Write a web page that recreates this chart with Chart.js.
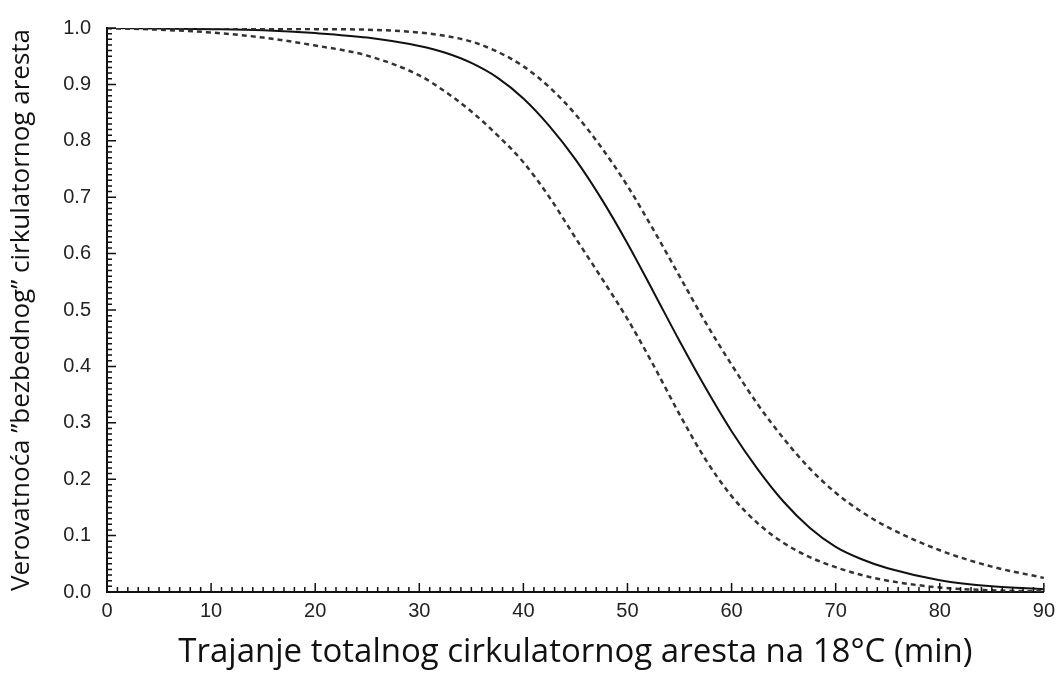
<!DOCTYPE html>
<html>
<head>
<meta charset="utf-8">
<script src="https://cdn.jsdelivr.net/npm/chart.js@4.4.0/dist/chart.umd.min.js"></script>
<style>
  html, body { margin: 0; padding: 0; background: #fff; }
  #wrap { width: 1062px; height: 675px; }
</style>
</head>
<body>
<div id="wrap"><canvas id="arrestCanvas"></canvas></div>
<script>
// minutes of total circulatory arrest at 18C
var minutes = [0, 5, 10, 15, 20, 25, 30, 32.5, 35, 37.5, 40, 42.5, 45, 47.5, 50, 52.5, 55, 57.5, 60, 62.5, 65, 67.5, 70, 72.5, 75, 80, 85, 90];
// probability of "safe" arrest: estimate and the two dashed bounds
var probMain  = [1.0, 0.999, 0.998, 0.996, 0.991, 0.983, 0.968, 0.956, 0.938, 0.912, 0.875, 0.826, 0.767, 0.697, 0.618, 0.532, 0.445, 0.362, 0.285, 0.218, 0.16, 0.114, 0.08, 0.058, 0.042, 0.021, 0.01, 0.005];
var probUpper = [1.0, 1.0, 1.0, 0.999, 0.998, 0.997, 0.992, 0.986, 0.976, 0.958, 0.932, 0.895, 0.847, 0.788, 0.72, 0.642, 0.56, 0.478, 0.403, 0.333, 0.272, 0.219, 0.176, 0.142, 0.115, 0.074, 0.045, 0.025];
var probLower = [1.0, 0.997, 0.992, 0.983, 0.969, 0.951, 0.916, 0.887, 0.852, 0.81, 0.762, 0.70, 0.628, 0.557, 0.484, 0.402, 0.315, 0.235, 0.17, 0.122, 0.087, 0.062, 0.044, 0.03, 0.02, 0.008, 0.003, 0.001];
var yTickLabels = ["0.0", "0.1", "0.2", "0.3", "0.4", "0.5", "0.6", "0.7", "0.8", "0.9", "1.0"];

function toPoints(ys) {
    return minutes.map(function(m, i){ return {x: m, y: ys[i]}; });
}

// inward minor/major ticks, like the original plot
var innerTicks = {
    id: 'innerTicks',
    afterDraw: function(chart) {
        var ctx = chart.ctx;
        var xs = chart.scales.x, ys = chart.scales.y;
        ctx.save();
        ctx.strokeStyle = '#111';
        ctx.lineWidth = 1.5;
        ctx.beginPath();
        for (var m = 0; m <= 90; m++) {
            var px = xs.getPixelForValue(m);
            var len = (m % 10 === 0) ? 9 : 5;
            ctx.moveTo(px, ys.bottom);
            ctx.lineTo(px, ys.bottom - len);
        }
        for (var k = 0; k <= 100; k++) {
            var py = ys.getPixelForValue(k / 100);
            var l = (k % 10 === 0) ? 9 : 5;
            ctx.moveTo(xs.left, py);
            ctx.lineTo(xs.left + l, py);
        }
        ctx.stroke();
        ctx.restore();
    }
};

var dashed = { borderColor: '#333', borderWidth: 2.5, borderDash: [5, 4], pointRadius: 0, fill: false, cubicInterpolationMode: 'monotone' };

var cfg = {
    type: 'line',
    data: {
        datasets: [
            Object.assign({ data: toPoints(probUpper) }, dashed),
            { data: toPoints(probMain), borderColor: '#111', borderWidth: 2, pointRadius: 0, fill: false, cubicInterpolationMode: 'monotone' },
            Object.assign({ data: toPoints(probLower) }, dashed)
        ]
    },
    options: {
        responsive: true,
        maintainAspectRatio: false,
        animation: false,
        layout: { padding: { top: 24, right: 15, left: 0, bottom: 0 } },
        plugins: { legend: { display: false }, tooltip: { enabled: false } },
        scales: {
            x: {
                type: 'linear',
                min: 0, max: 90,
                grid: { drawOnChartArea: false, drawTicks: false },
                border: { display: true, color: '#111', width: 2 },
                ticks: {
                    stepSize: 10, padding: 7, color: '#222',
                    font: { family: 'Liberation Sans', size: 20 }
                },
                title: {
                    display: true,
                    text: 'Trajanje totalnog cirkulatornog aresta na 18\u00B0C (min)',
                    color: '#111',
                    font: { family: 'Open Sans', size: 33 },
                    padding: { top: 0, bottom: 3 }
                },
                afterFit: function(scale) { scale.height = 83; }
            },
            y: {
                min: 0, max: 1,
                grid: { drawOnChartArea: false, drawTicks: false },
                border: { display: true, color: '#111', width: 2 },
                ticks: {
                    stepSize: 0.1, padding: 16, color: '#222',
                    font: { family: 'Liberation Sans', size: 20 },
                    callback: function(v) { return yTickLabels[Math.round(v * 10)]; }
                },
                title: {
                    display: true,
                    text: 'Verovatno\u0107a \u201Dbezbednog\u201D cirkulatornog aresta',
                    color: '#111',
                    font: { family: 'Open Sans', size: 26 },
                    padding: { top: 6, bottom: 0 }
                },
                afterFit: function(scale) { scale.width = 107; }
            }
        }
    },
    plugins: [innerTicks]
};

var ctx = document.getElementById('arrestCanvas').getContext('2d');
var arrestChart = new Chart(ctx, cfg);
</script>
</body>
</html>
